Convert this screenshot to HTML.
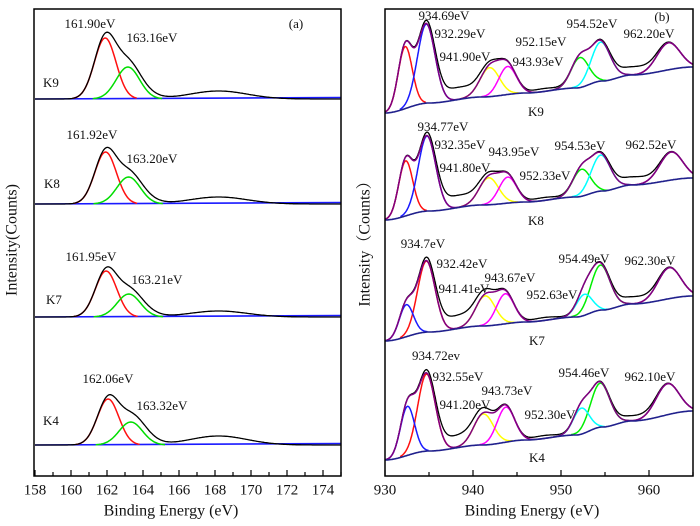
<!DOCTYPE html>
<html><head><meta charset="utf-8"><style>
html,body{margin:0;padding:0;background:#fff}
svg{display:block}
text{font-family:"Liberation Serif","Times New Roman",Times,"Noto Serif CJK SC",serif !important;fill:#111}
</style></head><body>
<svg id="fig" width="700" height="526" viewBox="0 0 700 526">
<rect x="0" y="0" width="700" height="526" fill="#fff"/>
<g id="gA"></g>
<g id="gB"></g>
<g id="labels" font-size="13" text-anchor="middle" dominant-baseline="middle">
<text x="296" y="25">(a)</text>
<text x="51" y="84">K9</text>
<text x="90" y="25">161.90eV</text>
<text x="152" y="39">163.16eV</text>
<text x="52" y="185">K8</text>
<text x="92" y="136">161.92eV</text>
<text x="152" y="160">163.20eV</text>
<text x="54" y="301">K7</text>
<text x="91" y="258">161.95eV</text>
<text x="157" y="281">163.21eV</text>
<text x="51" y="422">K4</text>
<text x="108" y="380">162.06eV</text>
<text x="162" y="407">163.32eV</text>

<text x="662" y="18">(b)</text>
<text x="444" y="17">934.69eV</text>
<text x="460" y="35">932.29eV</text>
<text x="465" y="58">941.90eV</text>
<text x="541" y="43">952.15eV</text>
<text x="538" y="63">943.93eV</text>
<text x="592" y="25">954.52eV</text>
<text x="649" y="35">962.20eV</text>
<text x="536" y="113">K9</text>
<text x="443" y="128">934.77eV</text>
<text x="460" y="146">932.35eV</text>
<text x="514" y="153">943.95eV</text>
<text x="465" y="169">941.80eV</text>
<text x="545" y="177">952.33eV</text>
<text x="580" y="147">954.53eV</text>
<text x="651" y="146">962.52eV</text>
<text x="536" y="222">K8</text>
<text x="423" y="245">934.7eV</text>
<text x="462" y="265">932.42eV</text>
<text x="464" y="290">941.41eV</text>
<text x="510" y="279">943.67eV</text>
<text x="552" y="296">952.63eV</text>
<text x="584" y="260">954.49eV</text>
<text x="650" y="262">962.30eV</text>
<text x="537" y="342">K7</text>
<text x="436" y="357">934.72ev</text>
<text x="458" y="378">932.55eV</text>
<text x="465" y="406">941.20eV</text>
<text x="507" y="392">943.73eV</text>
<text x="550" y="416">952.30eV</text>
<text x="584" y="374">954.46eV</text>
<text x="650" y="378">962.10eV</text>
<text x="537" y="459">K4</text>
</g>
<text x="171" y="512" font-size="16" text-anchor="middle" dominant-baseline="middle">Binding Energy (eV)</text>
<text x="532" y="512" font-size="16" text-anchor="middle" dominant-baseline="middle">Binding Energy (eV)</text>
<text transform="translate(13,240) rotate(-90)" font-size="16" text-anchor="middle" dominant-baseline="middle">Intensity(Counts)</text>
<text transform="translate(366,240) rotate(-90)" font-size="16" text-anchor="middle" dominant-baseline="middle">Intensity（Counts）</text>
</svg>
<script>
// ---------- Panel (a) data ----------
const aSamples = ["K9","K8","K7","K4"];
const aBaseline = [99, 204, 317, 445];
const aRedCenter = [161.90, 161.92, 161.95, 162.06];
const aRedHeight = [61, 52, 46, 46];
const aGreenCenter = [163.16, 163.20, 163.21, 163.32];
const aGreenHeight = [32, 27, 23, 23];
const aShoulderHeight = [6, 6, 6, 8];
const aBumpHeight = [8, 7, 6, 9];
const aTicks = [158,160,162,164,166,168,170,172,174];
// ---------- Panel (b) data ----------
const bSamples = ["K9","K8","K7","K4"];
const bBaseStart = [113, 220, 341, 460];
const bBgEnergy = [930, 935, 941, 946, 951.7, 954.7, 958, 965];
const bBgK9 = [0, -10, -16, -20, -25, -32, -38, -46];
const bBgK8 = [0, -9, -15, -18, -23, -29, -35, -42];
const bBgK7 = [0, -9, -15, -19, -24, -31, -37, -45];
const bBgK4 = [0, -9, -15, -20, -25, -33, -39, -49];
const bCompColors = ["#ff1010","#1a1aff","#ffff00","#ff00ff","#00ee00","#00ffff","#800080"];
const bCentersK9 = [932.29, 934.69, 941.90, 943.93, 952.15, 954.52, 962.20];
const bCentersK8 = [932.35, 934.77, 941.80, 943.95, 952.33, 954.53, 962.52];
const bCentersK7 = [934.70, 932.42, 941.41, 943.67, 954.49, 952.63, 962.30];
const bCentersK4 = [934.72, 932.55, 941.20, 943.73, 954.46, 952.30, 962.10];
const bHeightsK9 = [62, 79, 29, 28, 30, 39, 27];
const bHeightsK8 = [55, 75, 27, 26, 27, 36, 28];
const bHeightsK7 = [71, 32, 30, 30, 45, 21, 31];
const bHeightsK4 = [77, 49, 31, 35, 44, 26, 31];
const bWidthsK9 = [0.8, 1.0, 1.1, 1.0, 1.0, 1.1, 1.3];
const bWidthsK8 = [0.8, 1.0, 1.1, 1.0, 1.0, 1.1, 1.3];
const bWidthsK7 = [1.0, 0.8, 1.1, 1.0, 1.1, 0.9, 1.3];
const bWidthsK4 = [1.0, 0.8, 1.1, 1.0, 1.1, 0.9, 1.3];
const bFillerCenter = [938.3, 948.0, 958.3];
const bFillerK9 = [12, 3, 8];
const bFillerK8 = [12, 3, 8];
const bFillerK7 = [13, 3, 7];
const bFillerK4 = [12, 3, 5];
const bTicks = [930, 940, 950, 960];

const NS = "http://www.w3.org/2000/svg";
function mk(tag, attrs, parent){ const e=document.createElementNS(NS,tag); for(const k in attrs) e.setAttribute(k,attrs[k]); parent.appendChild(e); return e; }
function gauss(E,c,h,s){ return h*Math.exp(-(E-c)*(E-c)/(2*s*s)); }
function pathOf(pts){ return pts.map((p,i)=>(i?"L":"M")+p[0].toFixed(1)+","+p[1].toFixed(1)).join(""); }

// ---------- Panel (a) ----------
const gA = document.getElementById("gA");
const AX0=35, AX1=341, AE0=158, AE1=175, ATOP=9, ABOT=476;
const xA = E => AX0 + (E-AE0)/(AE1-AE0)*(AX1-AX0);
aSamples.forEach((s,i)=>{
  const b = aBaseline[i];
  const g = mk("g",{},gA);
  
  
  const base = mk("line",{x1:AX0,y1:b,x2:AX1,y2:b-1.5,stroke:"#1a1aff","stroke-width":1.6},g);
  
  
  const comps = [[aRedCenter[i],aRedHeight[i],0.6,"#ff1010"],[aGreenCenter[i],aGreenHeight[i],0.65,"#00dd00"]];
  comps.forEach((c,j)=>{
    const pts=[]; for(let E=c[0]-3*c[2];E<=c[0]+3*c[2];E+=0.05) pts.push([xA(E), b-gauss(E,c[0],c[1],c[2])]);
    const p = mk("path",{d:pathOf(pts),fill:"none",stroke:c[3],"stroke-width":1.5},g);
    
    
  });
  const pts=[];
  for(let E=AE0;E<=AE1+0.001;E+=0.05){
    let y = b - gauss(E,aRedCenter[i],aRedHeight[i],0.6) - gauss(E,aGreenCenter[i],aGreenHeight[i],0.65)
              - gauss(E,164.0,aShoulderHeight[i],0.7) - gauss(E,168.2,aBumpHeight[i],1.6);
    pts.push([xA(E), y]);
  }
  const d = mk("path",{d:pathOf(pts),fill:"none",stroke:"#000","stroke-width":1.3},g);
  
  
});
const frA = mk("rect",{x:AX0-1,y:ATOP,width:AX1-AX0+1,height:ABOT-ATOP,fill:"none",stroke:"#000","stroke-width":1.5},gA);


for(let E=158;E<=175;E+=1){
  const major = aTicks.indexOf(E)>=0;
  const t = mk("line",{x1:xA(E),x2:xA(E),y1:ABOT,y2:ABOT-(major?6:4),stroke:"#000","stroke-width":1.2},gA);
  
  
}
aTicks.forEach(v=>{
  const t = mk("text",{x:xA(v),y:491,"font-size":15,"text-anchor":"middle","dominant-baseline":"middle"},gA);
  t.textContent=v;
  
  
});

// ---------- Panel (b) ----------
const gB = document.getElementById("gB");
const BX0=385, BX1=693, BE0=930, BE1=965, BTOP=9, BBOT=476;
const xB = E => BX0 + (E-BE0)/(BE1-BE0)*(BX1-BX0);
const bgs=[bBgK9,bBgK8,bBgK7,bBgK4], cens=[bCentersK9,bCentersK8,bCentersK7,bCentersK4];
const hts=[bHeightsK9,bHeightsK8,bHeightsK7,bHeightsK4], wds=[bWidthsK9,bWidthsK8,bWidthsK7,bWidthsK4];
const fils=[bFillerK9,bFillerK8,bFillerK7,bFillerK4];
function bgAt(i,E){
  const ar=bgs[i];
  if(E<=bBgEnergy[0]) return bBaseStart[i]+ar[0];
  for(let k=1;k<bBgEnergy.length;k++){
    if(E<=bBgEnergy[k]){ const t=(E-bBgEnergy[k-1])/(bBgEnergy[k]-bBgEnergy[k-1]); const s=t*t*(3-2*t); return bBaseStart[i]+ar[k-1]+(ar[k]-ar[k-1])*s; }
  }
  return bBaseStart[i]+ar[ar.length-1];
}
bSamples.forEach((s,i)=>{
  const g = mk("g",{},gB);
  
  
  const c=cens[i], h=hts[i], w=wds[i];
  const env = E => { let v=0; for(let k=0;k<c.length;k++) v+=gauss(E,c[k],h[k],w[k]); return v; };
  const dp=[];
  for(let E=BE0;E<=BE1+0.001;E+=0.05){
    let v = env(E); for(let k=0;k<bFillerCenter.length;k++) v+=gauss(E,bFillerCenter[k],fils[i][k],[2.2,1.5,1.8][k]);
    dp.push([xB(E), bgAt(i,E)-v]);
  }
  const d = mk("path",{d:pathOf(dp),fill:"none",stroke:"#000","stroke-width":1.3},g);
  
  
  c.forEach((cc,k)=>{
    const pts=[]; for(let E=Math.max(BE0,cc-3*w[k]);E<=Math.min(BE1,cc+3*w[k]);E+=0.05) pts.push([xB(E), bgAt(i,E)-gauss(E,cc,h[k],w[k])]);
    const p = mk("path",{d:pathOf(pts),fill:"none",stroke:bCompColors[k],"stroke-width":1.5},g);
    
    
  });
  const ep=[];
  for(let E=BE0;E<=BE1+0.001;E+=0.05) ep.push([xB(E), bgAt(i,E)-env(E)]);
  const e = mk("path",{d:pathOf(ep),fill:"none",stroke:"#800080","stroke-width":1.5},g);
  
  
  const bp=[];
  for(let E=BE0;E<=BE1+0.001;E+=0.1) bp.push([xB(E), bgAt(i,E)]);
  const bl = mk("path",{d:pathOf(bp),fill:"none",stroke:"#20208c","stroke-width":1.6},g);
  
  
});
const frB = mk("rect",{x:BX0,y:BTOP,width:BX1-BX0,height:BBOT-BTOP,fill:"none",stroke:"#000","stroke-width":1.5},gB);


for(let E=930;E<=965;E+=5){
  const major = bTicks.indexOf(E)>=0;
  const t = mk("line",{x1:xB(E),x2:xB(E),y1:BBOT,y2:BBOT-(major?6:4),stroke:"#000","stroke-width":1.2},gB);
  
  
}
bTicks.forEach(v=>{
  const t = mk("text",{x:xB(v),y:491,"font-size":15,"text-anchor":"middle","dominant-baseline":"middle"},gB);
  t.textContent=v;
  
  
});
</script>
</body></html>
